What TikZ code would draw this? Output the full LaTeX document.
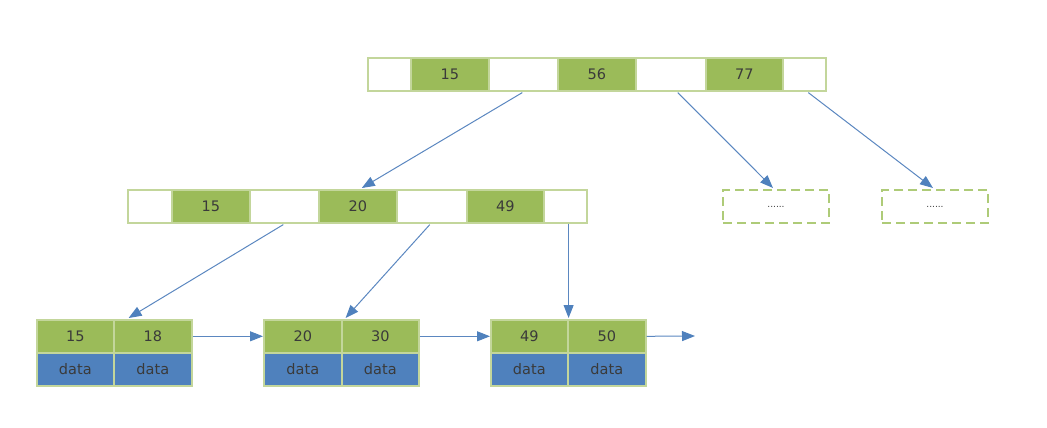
\documentclass[tikz,border=0pt]{standalone}
\usepackage{fontspec}
\setmainfont{DejaVu Sans}
\usetikzlibrary{arrows.meta,calc}
\definecolor{kgreen}{HTML}{9BBB59}
\definecolor{kblue}{HTML}{4F81BD}
\definecolor{kborder}{HTML}{C3D69B}
\definecolor{kdash}{HTML}{AECB78}
\definecolor{ktext}{HTML}{3A3A3A}
\definecolor{karrow}{HTML}{5B87C0}
\tikzset{
  cell/.style={draw=kborder, line width=1.6pt, inner sep=0pt, anchor=north west,
    font=\fontsize{14.5}{16}\selectfont, text=ktext},
  key/.style={cell, fill=kgreen},
  ptr/.style={cell, fill=white},
  dat/.style={cell, fill=kblue},
  dashbox/.style={draw=kdash, line width=2pt, dash pattern=on 9pt off 5pt, inner sep=0pt,
    anchor=north west, font=\fontsize{9}{10}\selectfont, text=ktext, fill=white},
  link/.style={draw=karrow, line width=1pt, -{Triangle[length=13pt,width=10pt,color=kblue]}}
}
\newcommand{\cellat}[6]{\node[#1, minimum width=#4pt, minimum height=#5pt] (#2) at (#3) {#6};}
\begin{document}
\begin{tikzpicture}[x=1pt,y=-1pt]
\useasboundingbox (1,1) rectangle (1048,429);
% top node
\cellat{ptr}{t1}{368,58}{43}{33}{}
\cellat{key}{t2k}{411,58}{78}{33}{15}
\cellat{ptr}{t2}{489,58}{69}{33}{}
\cellat{key}{t3k}{558,58}{78}{33}{56}
\cellat{ptr}{t4}{636,58}{70}{33}{}
\cellat{key}{t5k}{706,58}{77}{33}{77}
\cellat{ptr}{t6}{783,58}{43}{33}{}
% middle node
\cellat{ptr}{m1}{128,190}{44}{33}{}
\cellat{key}{m1k}{172,190}{78}{33}{15}
\cellat{ptr}{m2}{250,190}{69}{33}{}
\cellat{key}{m3}{319,190}{78}{33}{20}
\cellat{ptr}{m4}{397,190}{70}{33}{}
\cellat{key}{m5k}{467,190}{77}{33}{49}
\cellat{ptr}{m6}{544,190}{43}{33}{}
% dashed boxes
\node[dashbox, minimum width=106pt, minimum height=33pt] (d1) at (723,190) {......};
\node[dashbox, minimum width=106pt, minimum height=33pt] (d2) at (882,190) {......};
% leaves
\cellat{key}{l1a}{37,320}{77}{33}{15}
\cellat{key}{l1b}{114,320}{78}{33}{18}
\cellat{dat}{l1c}{37,353}{77}{33}{data}
\cellat{dat}{l1d}{114,353}{78}{33}{data}
\cellat{key}{l2a}{264,320}{78}{33}{20}
\cellat{key}{l2b}{342,320}{77}{33}{30}
\cellat{dat}{l2c}{264,353}{78}{33}{data}
\cellat{dat}{l2d}{342,353}{77}{33}{data}
\cellat{key}{l3a}{491,320}{77}{33}{49}
\cellat{key}{l3b}{568,320}{78}{33}{50}
\cellat{dat}{l3c}{491,353}{77}{33}{data}
\cellat{dat}{l3d}{568,353}{78}{33}{data}
\coordinate (end) at (696,337);
% tree links
\draw[link] ($(t2.south)+(-1,1)$) -- ($(m3.north)+(4,-1)$);
\draw[link] ($(t4.south)+(7,1)$) -- ($(d1.north)+(-3,-1)$);
\draw[link] ($(t6.south)+(4,1)$) -- ($(d2.north)+(-2,-1)$);
\draw[link] ($(m2.south)+(-1,1)$) -- ($(l1a.north east)+(14,-1)$);
\draw[link] ($(m4.south)+(-2,1)$) -- ($(l2a.north east)+(3,-1)$);
\draw[link] (l3a.north east |- m6.south) -- ($(l3a.north east)+(0,-1)$);
% leaf links
\draw[link] (l1b.east) -- (l2a.west);
\draw[link] (l2b.east) -- (l3a.west);
\draw[link] (l3b.east) -- (end);
\end{tikzpicture}
\end{document}
